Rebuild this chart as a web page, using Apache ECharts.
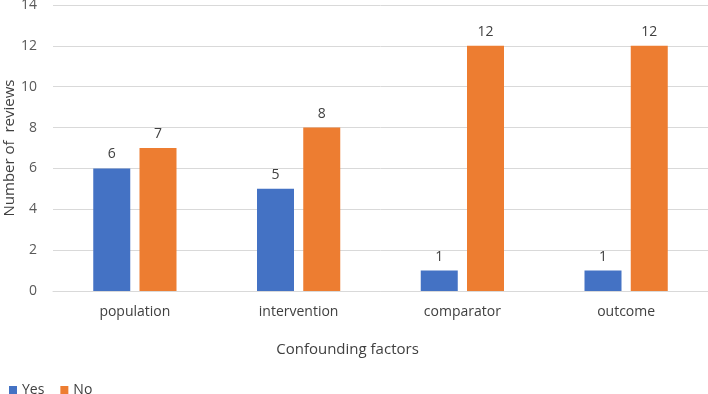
<!DOCTYPE html>
<html>
<head>
<meta charset="utf-8">
<script src="https://cdn.jsdelivr.net/npm/echarts@6/dist/echarts.min.js"></script>
<style>
  html, body { margin: 0; padding: 0; background: #fff; }
  #mainChart { width: 708px; height: 394px; }
</style>
</head>
<body>
<div id="mainChart"></div>
<script>
var categories = ['population', 'intervention', 'comparator', 'outcome'];
var yesData = [6, 5, 1, 1];
var noData = [7, 8, 12, 12];

var myChart = echarts.init(document.getElementById('mainChart'));

var labelStyle = {
    show: true,
    position: 'top',
    distance: 7,
    color: '#404040',
    fontSize: 14,
    fontFamily: 'Open Sans'
};

var option = {
    animation: false,
    textStyle: { fontFamily: 'Open Sans' },
    legend: {
        left: 4,
        bottom: -8,
        itemWidth: 8,
        itemHeight: 8,
        itemGap: 16,
        icon: 'rect',
        textStyle: { color: '#404040', fontSize: 14 },
        data: ['Yes', 'No']
    },
    grid: {
        left: 53,
        right: 0,
        top: 5,
        bottom: 103,
        outerBoundsMode: 'none'
    },
    xAxis: {
        type: 'category',
        data: categories,
        name: 'Confounding factors',
        nameLocation: 'middle',
        nameGap: 51,
        nameMoveOverlap: false,
        nameTextStyle: { color: '#404040', fontSize: 15, padding: [0, 66, 0, 0] },
        axisLine: { lineStyle: { color: '#d9d9d9' } },
        axisTick: { show: false },
        axisLabel: { color: '#404040', fontSize: 14, margin: 14 }
    },
    yAxis: {
        type: 'value',
        min: 0,
        max: 14,
        interval: 2,
        name: 'Number of  reviews',
        nameLocation: 'middle',
        nameGap: 36,
        nameMoveOverlap: false,
        nameTextStyle: { color: '#404040', fontSize: 15 },
        axisLine: { show: false },
        axisTick: { show: false },
        axisLabel: { color: '#595959', fontSize: 14, margin: 16 },
        splitLine: { lineStyle: { color: '#d9d9d9' } }
    },
    series: [{
        name: 'Yes',
        type: 'bar',
        data: yesData,
        barWidth: 37,
        barGap: '25%',
        itemStyle: { color: '#4472C4' },
        label: labelStyle
    }, {
        name: 'No',
        type: 'bar',
        data: noData,
        barWidth: 37,
        itemStyle: { color: '#ED7D31' },
        label: labelStyle
    }]
};

myChart.setOption(option);
</script>
</body>
</html>
